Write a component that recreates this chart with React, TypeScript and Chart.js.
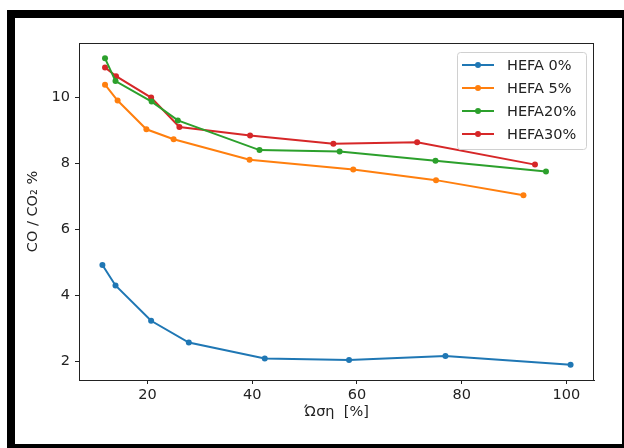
import React, { useEffect, useRef } from "react";
import { Chart, registerables } from "chart.js";

Chart.register(...registerables);

const seriesLabels = ["HEFA 0%", "HEFA 5%", "HEFA20%", "HEFA30%"];
const seriesColors = ["#1f77b4", "#ff7f0e", "#2ca02c", "#d62728"];

const hefa0X = [11.4, 13.9, 20.7, 27.9, 42.4, 58.5, 76.9, 100.8];
const hefa0Y = [4.93, 4.31, 3.24, 2.58, 2.1, 2.05, 2.17, 1.91];
const hefa5X = [11.9, 14.3, 19.8, 25.0, 39.5, 59.3, 75.1, 91.8];
const hefa5Y = [10.39, 9.91, 9.04, 8.74, 8.12, 7.82, 7.5, 7.04];
const hefa20X = [11.9, 13.9, 20.8, 25.8, 41.4, 56.7, 75.0, 96.1];
const hefa20Y = [11.19, 10.5, 9.88, 9.31, 8.41, 8.37, 8.09, 7.76];
const hefa30X = [11.9, 14.0, 20.7, 26.1, 39.6, 55.5, 71.5, 94.0];
const hefa30Y = [10.91, 10.65, 10.0, 9.11, 8.85, 8.6, 8.65, 7.97];

const xTitle = "Ώση  [%]";
const yTitle = "CO / CO₂ %";
const xStep = 20;
const yStep = 2;

const FONT = "DejaVu Sans";

const framePlugin = {
  id: "frameAndLegend",
  afterDatasetsDraw(chart: any) {
    const { ctx, chartArea } = chart;
    const { left, top, right, bottom } = chartArea;
    ctx.save();
    ctx.strokeStyle = "#222";
    ctx.lineWidth = 1;
    ctx.strokeRect(Math.round(left) + 0.5, Math.round(top) + 0.5, Math.round(right - left) - 1, Math.round(bottom - top));
    // legend
    const w = 129;
    const h = 97;
    const bx = right - 8 - w;
    const by = top + 9;
    ctx.fillStyle = "rgba(255,255,255,0.85)";
    ctx.strokeStyle = "#d0d0d0";
    ctx.lineWidth = 1;
    ctx.beginPath();
    const r = 3;
    const x0 = Math.round(bx) + 0.5, y0 = Math.round(by) + 0.5;
    ctx.moveTo(x0 + r, y0);
    ctx.lineTo(x0 + w - r, y0);
    ctx.quadraticCurveTo(x0 + w, y0, x0 + w, y0 + r);
    ctx.lineTo(x0 + w, y0 + h - r);
    ctx.quadraticCurveTo(x0 + w, y0 + h, x0 + w - r, y0 + h);
    ctx.lineTo(x0 + r, y0 + h);
    ctx.quadraticCurveTo(x0, y0 + h, x0, y0 + h - r);
    ctx.lineTo(x0, y0 + r);
    ctx.quadraticCurveTo(x0, y0, x0 + r, y0);
    ctx.closePath();
    ctx.fill();
    ctx.stroke();
    chart.data.datasets.forEach((ds: any, i: number) => {
      const cy = by + 13 + i * 23;
      ctx.strokeStyle = ds.borderColor;
      ctx.lineWidth = 2;
      ctx.beginPath();
      ctx.moveTo(bx + 5, cy);
      ctx.lineTo(bx + 37, cy);
      ctx.stroke();
      ctx.fillStyle = ds.borderColor;
      ctx.beginPath();
      ctx.arc(bx + 21, cy, 3, 0, Math.PI * 2);
      ctx.fill();
      ctx.fillStyle = "#222";
      ctx.font = `14.5px "${FONT}"`;
      ctx.textBaseline = "middle";
      ctx.textAlign = "left";
      ctx.fillText(ds.label, bx + 50, cy + 1);
    });
    ctx.restore();
  },
};

export default function App() {
  const ref = useRef<HTMLCanvasElement>(null);

  useEffect(() => {
    const xsAll = [...hefa0X, ...hefa5X, ...hefa20X, ...hefa30X];
    const ysAll = [...hefa0Y, ...hefa5Y, ...hefa20Y, ...hefa30Y];
    const xMinD = Math.min(...xsAll), xMaxD = Math.max(...xsAll);
    const yMinD = Math.min(...ysAll), yMaxD = Math.max(...ysAll);
    const xm = (xMaxD - xMinD) * 0.05;
    const ym = (yMaxD - yMinD) * 0.05;

    const pairs = [
      [hefa0X, hefa0Y],
      [hefa5X, hefa5Y],
      [hefa20X, hefa20Y],
      [hefa30X, hefa30Y],
    ];
    const datasets = pairs.map(([xs, ys], i) => ({
      label: seriesLabels[i],
      data: xs.map((x, j) => ({ x, y: ys[j] })),
      showLine: true,
      borderColor: seriesColors[i],
      backgroundColor: seriesColors[i],
      borderWidth: 2,
      pointRadius: 3,
      pointHoverRadius: 3,
      pointBorderWidth: 0,
      tension: 0,
    }));

    const tickFont = { family: FONT, size: 14.5 };
    const chart = new Chart(ref.current!, {
      type: "scatter",
      data: { datasets },
      plugins: [framePlugin],
      options: {
        animation: false,
        responsive: false,
        devicePixelRatio: 1,
        layout: { padding: { top: 25, right: 28, left: 0, bottom: 0 } },
        plugins: { legend: { display: false }, tooltip: { enabled: false } },
        scales: {
          x: {
            type: "linear",
            min: xMinD - xm,
            max: xMaxD + xm,
            afterFit: (s: any) => {
              s.height = 64;
            },
            border: { display: true, color: "#222", width: 1 },
            grid: { drawOnChartArea: false, drawTicks: true, tickLength: 4, color: "#222" },
            ticks: {
              stepSize: xStep,
              includeBounds: false,
              color: "#222",
              font: tickFont,
              padding: 3,
              maxRotation: 0,
            },
            title: {
              display: true,
              text: xTitle,
              color: "#222",
              font: tickFont,
              padding: { top: 0, bottom: 23 },
            },
          },
          y: {
            type: "linear",
            min: yMinD - ym,
            max: yMaxD + ym,
            afterFit: (s: any) => {
              s.width = 64;
            },
            border: { display: true, color: "#222", width: 1 },
            grid: { drawOnChartArea: false, drawTicks: true, tickLength: 4, color: "#222" },
            ticks: {
              stepSize: yStep,
              includeBounds: false,
              color: "#222",
              font: tickFont,
              padding: 5,
            },
            title: {
              display: true,
              text: yTitle,
              color: "#222",
              font: tickFont,
              padding: { top: 10, bottom: 0 },
            },
          },
        },
      },
    } as any);
    return () => chart.destroy();
  }, []);

  return (
    <div
      style={{
        position: "fixed",
        left: 0,
        top: 0,
        width: 624,
        height: 448,
        overflow: "hidden",
        background: "#fff",
      }}
    >
      <div
        style={{
          position: "absolute",
          left: 7,
          top: 10,
          width: 607,
          height: 426,
          border: "8px solid #000",
          background: "#fff",
        }}
      >
        <canvas ref={ref} width={607} height={426} style={{ display: "block", width: 607, height: 426 }} />
      </div>
    </div>
  );
}
